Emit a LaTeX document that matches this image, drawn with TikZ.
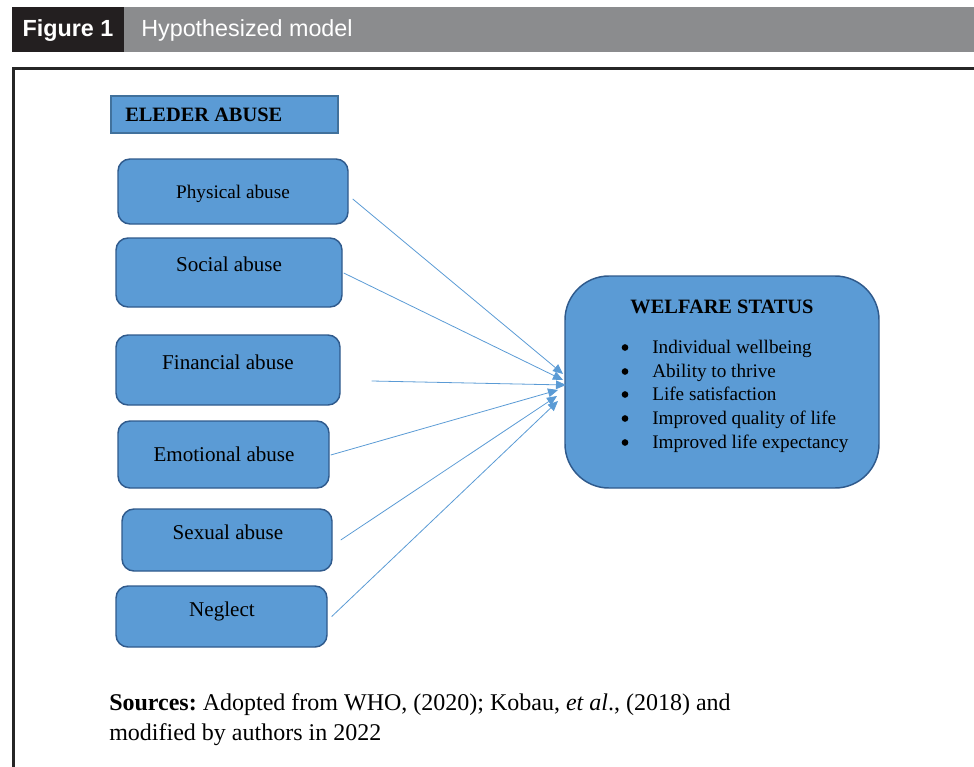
\documentclass[tikz,border=0pt]{standalone}
\usepackage{fontspec}
\setmainfont{Liberation Serif}
\newfontfamily\hdrfont{Liberation Sans}
\usetikzlibrary{fit,calc,arrows.meta}
\definecolor{boxblue}{HTML}{5B9BD5}
\definecolor{boxline}{HTML}{2F5A8C}
\definecolor{hboxline}{HTML}{41719C}
\definecolor{arrblue}{HTML}{5B9BD5}
\definecolor{hdrgray}{HTML}{8B8C8E}
\definecolor{hdrblack}{HTML}{231F20}
\definecolor{framecol}{HTML}{262626}
\frenchspacing
\begin{document}
\begin{tikzpicture}[x=0.75pt,y=-0.75pt,
  abox/.style={draw=boxline, fill=boxblue, line width=1.1pt, rounded corners=9pt, inner sep=0pt},
  hbox/.style={draw=hboxline, fill=boxblue, line width=1pt, inner sep=0pt},
  wbox/.style={abox, rounded corners=33pt},
  lbl/.style={anchor=base, inner sep=0pt, font=\fontsize{15.8}{18}\selectfont},
  lbls/.style={lbl, font=\fontsize{14.4}{17}\selectfont},
  blt/.style={anchor=base west, inner sep=0pt, font=\fontsize{14.4}{17}\selectfont},
  bdot/.style={circle, fill=black, inner sep=0pt, minimum size=5pt},
  ttl/.style={inner sep=0pt, font=\fontsize{15.3}{18}\selectfont\bfseries},
  src/.style={anchor=base west, inner sep=0pt, font=\fontsize{18}{22}\selectfont},
  arr/.style={draw=arrblue, line width=0.6pt, -{Triangle[length=7.5pt,width=6.5pt]}},
  hdr/.style={inner sep=0pt, text=white, font=\hdrfont\fontsize{17.5}{20}\selectfont},
]
\useasboundingbox (0,0) rectangle (974,767);
% header
\node[fill=hdrblack, inner sep=0pt, fit={(12,7)(124,52)}] (hdrA) {};
\node[fill=hdrgray, inner sep=0pt, fit={(124,7)(974,52)}] (hdrB) {};
\node[hdr, anchor=base, font=\hdrfont\bfseries\fontsize{17.5}{20}\selectfont] (figno) at (68,37) {Figure 1};
\node[hdr, anchor=base west] (figttl) at (141,37) {Hypothesized model};
% frame
\draw[line width=2.25pt, color=framecol] (13.5,767) -- (13.5,68.5) -- (974,68.5);
% elder abuse heading
\node[hbox, fit={(111,96)(338,133)}] (eabox) {};
\node[ttl, anchor=base west] (eatxt) at (125,122) {ELEDER ABUSE};
% abuse boxes
\node[abox, fit={(118,159)(348,224)}] (phys) {};
\node[lbls] (physt) at (233,198) {Physical abuse};
\node[abox, fit={(116,238)(342,307)}] (soc) {};
\node[lbl] (soct) at (229,271) {Social abuse};
\node[abox, fit={(116,335)(340,405)}] (fin) {};
\node[lbl] (fint) at (228,369) {Financial abuse};
\node[abox, fit={(118,421)(329,488)}] (emo) {};
\node[lbl] (emot) at (224,461) {Emotional abuse};
\node[abox, fit={(122,509)(332,571)}] (sex) {};
\node[lbl] (sext) at (228,539) {Sexual abuse};
\node[abox, fit={(116,586)(327,647)}] (neg) {};
\node[lbl] (negt) at (222,616) {Neglect};
% welfare status
\node[wbox, fit={(565,276)(879,488)}] (wel) {};
\node[ttl, anchor=base] (welt) at (722,313) {WELFARE STATUS};
\foreach \yy/\tx [count=\i] in {353/Individual wellbeing, 377/Ability to thrive, 400/Life satisfaction, 424/Improved quality of life, 448/Improved life expectancy}{
  \node[bdot] (b\i) at (625,\yy-5.5) {};
  \node[blt] (w\i) at (652,\yy) {\tx};
}
% arrow targets
\coordinate (t1) at (563,374);
\coordinate (t2) at (563,380);
\coordinate (t3) at (566,385);
\coordinate (t4) at (558,390);
\coordinate (t5) at (557,396);
\coordinate (t6) at (558,401);
\draw[arr] ($(phys.east)+(4,7.5)$) -- (t1);
\draw[arr] ($(soc.east)+(1,0.5)$) -- (t2);
\draw[arr] ($(fin.east)+(31,11)$) -- (t3);
\draw[arr] ($(emo.east)+(1,0.5)$) -- (t4);
\draw[arr] ($(sex.east)+(8,0)$) -- (t5);
\draw[arr] ($(neg.east)+(4,0)$) -- (t6);
% sources
\node[src] (src1) at (109,710) {\textbf{Sources:} Adopted from WHO, (2020); Kobau, \textit{et al}., (2018) and};
\node[src] (src2) at (109,740) {modified by authors in 2022};
\end{tikzpicture}
\end{document}
